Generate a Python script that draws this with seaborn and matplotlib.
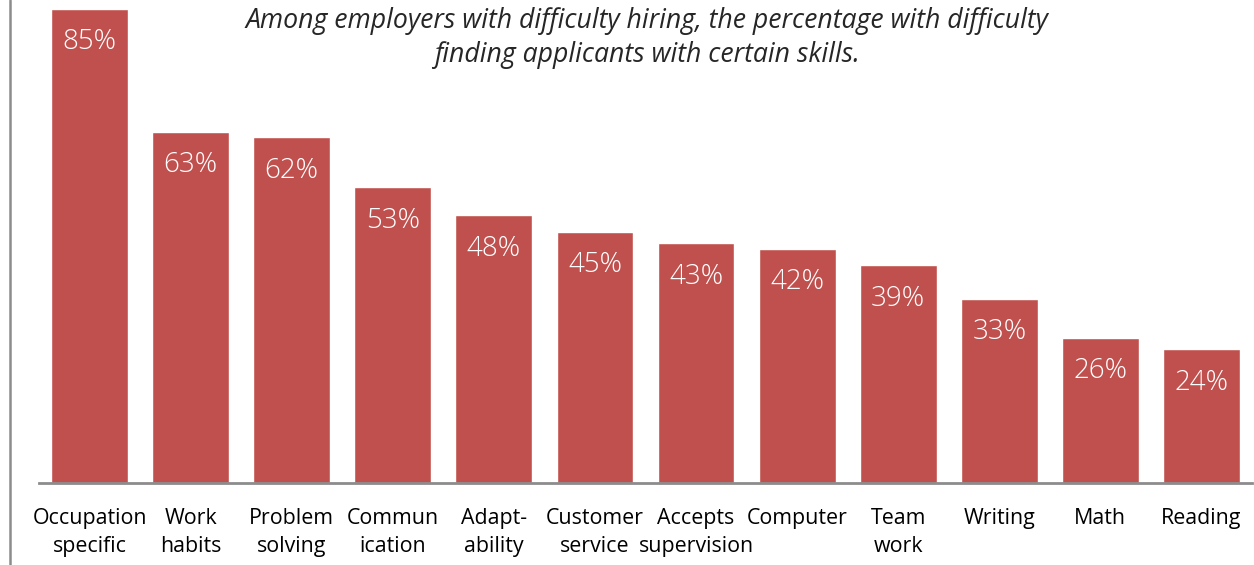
import matplotlib
matplotlib.use('Agg')
import matplotlib.pyplot as plt
import seaborn as sns
import pandas as pd
from matplotlib.lines import Line2D

skills = ['Occupation\nspecific', 'Work\nhabits', 'Problem\nsolving', 'Commun\nication',
          'Adapt-\nability', 'Customer\nservice', 'Accepts\nsupervision', 'Computer',
          'Team\nwork', 'Writing', 'Math', 'Reading']
percent = [85, 63, 62, 53, 48, 45, 43, 42, 39, 33, 26, 24]

df = pd.DataFrame({'skill': skills, 'pct': percent})

sns.set_style('white')
plt.rcParams['font.family'] = ['Open Sans', 'DejaVu Sans']

fig = plt.figure(figsize=(12.54, 5.65), dpi=100)
ax = fig.add_axes([39 / 1254, (565 - 483) / 565, (1252 - 39) / 1254, 483 / 565])

sns.barplot(data=df, x='skill', y='pct', color='#C0504D', width=0.76,
            saturation=1, ax=ax)

ax.set_xlim(-0.5, len(skills) - 0.5)
ax.set_ylim(0, 86.6)
ax.set_yticks([])
ax.set_xlabel('')
ax.set_ylabel('')
for s in ['top', 'right', 'left']:
    ax.spines[s].set_visible(False)
ax.spines['bottom'].set_color('#8c8c8c')
ax.spines['bottom'].set_linewidth(2)
ax.tick_params(axis='x', length=0, pad=18, labelsize=15.4, labelcolor='black')
for t in ax.get_xticklabels():
    t.set_linespacing(1.42)

# value labels inside bars
for i, v in enumerate(percent):
    ax.text(i, v - 6.0, f'{v}%', ha='center', va='center', color='white',
            fontsize=20, fontweight='light')

# left border line
fig.add_artist(Line2D([10 / 1254, 10 / 1254], [0, 1], color='#8c8c8c', lw=1.8))

fig.text(647 / 1254, 1 - 38 / 565,
         'Among employers with difficulty hiring, the percentage with difficulty\n'
         'finding applicants with certain skills.',
         ha='center', va='center', fontsize=19.2, style='italic', linespacing=1.25)

fig.savefig('out.png', dpi=100)
